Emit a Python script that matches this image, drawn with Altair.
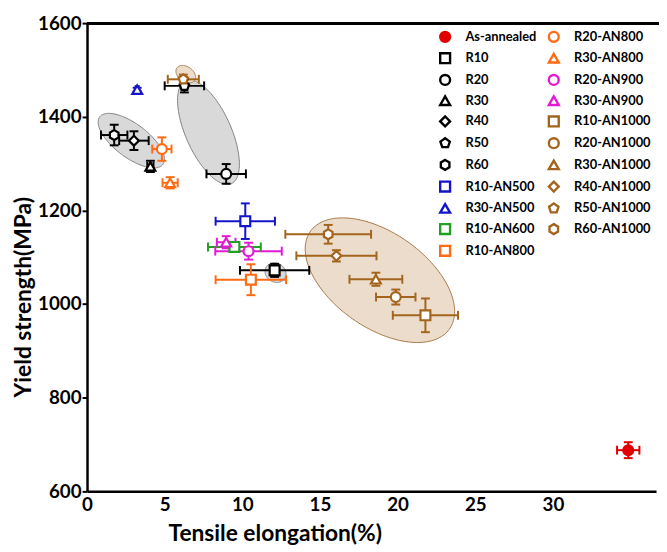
import altair as alt
import pandas as pd
import numpy as np

# ---------------- data ----------------
series = ["As-annealed", "R10", "R20", "R30", "R40", "R50", "R60",
          "R10-AN500", "R30-AN500", "R10-AN600", "R10-AN800",
          "R20-AN800", "R30-AN800", "R20-AN900", "R30-AN900",
          "R10-AN1000", "R20-AN1000", "R30-AN1000", "R40-AN1000",
          "R50-AN1000", "R60-AN1000"]
elong = [34.85, 12.08, 8.96, 4.08, 3.02, 6.27, 1.75,
         10.19, 3.23, 9.49, 10.55,
         4.82, 5.35, 10.40, 8.96,
         21.79, 19.88, 18.60, 16.06,
         6.20, 15.53]
elong_err = [0.72, 2.23, 1.27, 0.20, 0.95, 1.27, 0.85,
             1.91, 0.10, 1.70, 2.27,
             0.62, 0.49, 2.14, 0.60,
             2.10, 1.27, 1.70, 2.58,
             1.00, 2.76]
ys = [688, 1072, 1278, 1294, 1349, 1466, 1361,
      1177, 1458, 1122, 1052,
      1331, 1259, 1113, 1132,
      976, 1015, 1053, 1103,
      1480, 1149]
ys_err = [17, 14, 21, 12, 20, 14, 22,
          38, 4, 5, 33,
          25, 12, 18, 13,
          36, 16, 14, 12,
          10, 20]

BLACK, BLUE, GREEN, ORANGE, MAGENTA, BROWN, RED = (
    "#000000", "#1414c8", "#22a022", "#ff6a13", "#e21ad4", "#a3651d", "#e00000")
colors = [RED, BLACK, BLACK, BLACK, BLACK, BLACK, BLACK,
          BLUE, BLUE, GREEN, ORANGE,
          ORANGE, ORANGE, MAGENTA, MAGENTA,
          BROWN, BROWN, BROWN, BROWN, BROWN, BROWN]
PENT = "M0,-1L0.951,-0.309L0.588,0.809L-0.588,0.809L-0.951,-0.309Z"
HEX = "M0,-1L0.866,-0.5L0.866,0.5L0,1L-0.866,0.5L-0.866,-0.5Z"
shapes = ["circle", "square", "circle", "triangle-up", "diamond", PENT, HEX,
          "square", "triangle-up", "square", "square",
          "circle", "triangle-up", "circle", "triangle-up",
          "square", "circle", "triangle-up", "diamond", PENT, HEX]
fills = [RED] + ["white"] * 20

# ellipses: centre (data), semi-axes (px), tilt (deg, clockwise), group
ell_cx = [2.85, 7.82, 12.14, 6.36, 18.86]
ell_cy = [1349, 1367, 1067, 1491, 1051]
ell_a = [40, 57, 11, 11, 86]
ell_b = [17, 23, 9.5, 7.5, 48]
ell_t = [37, 66, 30, 35, 35]
ell_grp = ["gray", "gray", "gray", "brown", "brown"]

# ---------------- layout ----------------
W, H = 576, 474
XMAX = 36.64
kx, ky = W / XMAX, H / 1000.0

df = pd.DataFrame({"series": series, "x": elong, "xe": elong_err,
                   "y": ys, "ye": ys_err, "hex": colors})
df["xlo"] = df.x - df.xe
df["xhi"] = df.x + df.xe
df["ylo"] = df.y - df.ye
df["yhi"] = df.y + df.ye

rows = []
for k in range(len(ell_cx)):
    a, b = ell_a[k], ell_b[k]
    phi = -np.radians(ell_t[k])
    c, s = np.cos(phi), np.sin(phi)
    A = c * c / a**2 + s * s / b**2
    B = 2 * c * s * (1 / a**2 - 1 / b**2)
    C = s * s / a**2 + c * c / b**2
    umax = np.sqrt(4 * C / (4 * A * C - B * B))
    u = -umax * np.cos(np.linspace(0, np.pi, 90))
    disc = np.clip(B * B * u * u - 4 * C * (A * u * u - 1), 0, None)
    v1 = (-B * u - np.sqrt(disc)) / (2 * C)
    v2 = (-B * u + np.sqrt(disc)) / (2 * C)
    for uu, a1, a2 in zip(u, v1, v2):
        rows.append({"eid": k, "grp": ell_grp[k],
                     "ex": ell_cx[k] + uu / kx,
                     "elo": ell_cy[k] + a1 / ky,
                     "ehi": ell_cy[k] + a2 / ky})
edf = pd.DataFrame(rows)

FONT = "Lato"
xs = alt.Scale(domain=[0, XMAX], nice=False, zero=False)
yscale = alt.Scale(domain=[600, 1600], nice=False, zero=False)

xaxis = alt.Axis(title="Tensile elongation(%)", values=[0, 5, 10, 15, 20, 25, 30],
                 grid=False, tickSize=0, labelPadding=4, labelFontSize=19,
                 labelFont=FONT, labelFontWeight="bold", labelColor="black",
                 titleFont=FONT, titleFontSize=23, titleFontWeight="bold",
                 titleColor="black", titleX=190, titleY=43, titleBaseline="middle",
                 titleAlign="center", domainColor="black", domainWidth=2.5,
                 labelFlush=False, format="d")
yaxis = alt.Axis(title="Yield strength(MPa)", values=[600, 800, 1000, 1200, 1400, 1600],
                 grid=False, tickSize=5, tickWidth=2, tickColor="black",
                 labelPadding=1, labelFontSize=19, labelFont=FONT,
                 labelFontWeight="bold", labelColor="black",
                 titleFont=FONT, titleFontSize=23, titleFontWeight="bold",
                 titleColor="black", titleX=-64, titleY=277, titleBaseline="middle",
                 titleAlign="center", titleAngle=-90,
                 domainColor="black", domainWidth=2.5, labelFlush=False, format="d")

base_e = alt.Chart(edf)
gray_ell = base_e.transform_filter(alt.datum.grp == "gray").mark_area(
    fill="#d9d9d9", stroke="#7f7f7f", strokeWidth=1, opacity=1
).encode(x=alt.X("ex:Q", scale=xs, axis=xaxis),
         y=alt.Y("elo:Q", scale=yscale, axis=yaxis),
         y2="ehi:Q", detail="eid:N")
brown_ell = base_e.transform_filter(alt.datum.grp == "brown").mark_area(
    fill="#ecdccb", stroke="#a87846", strokeWidth=1, opacity=1
).encode(x="ex:Q", y="elo:Q", y2="ehi:Q", detail="eid:N")

base = alt.Chart(df)
stroke_id = alt.Stroke("hex:N", scale=None)
xbars = base.mark_rule(strokeWidth=2).encode(x="xlo:Q", x2="xhi:Q", y="y:Q", stroke=stroke_id)
ybars = base.mark_rule(strokeWidth=2).encode(x="x:Q", y="ylo:Q", y2="yhi:Q", stroke=stroke_id)
cap_l = base.mark_point(shape="stroke", size=81, strokeWidth=2, angle=90, opacity=1).encode(
    x="xlo:Q", y="y:Q", stroke=stroke_id)
cap_r = base.mark_point(shape="stroke", size=81, strokeWidth=2, angle=90, opacity=1).encode(
    x="xhi:Q", y="y:Q", stroke=stroke_id)
cap_b = base.mark_point(shape="stroke", size=81, strokeWidth=2, opacity=1).encode(
    x="x:Q", y="ylo:Q", stroke=stroke_id)
cap_t = base.mark_point(shape="stroke", size=81, strokeWidth=2, opacity=1).encode(
    x="x:Q", y="yhi:Q", stroke=stroke_id)

points = base.mark_point(filled=False, size=100, strokeWidth=2.2, opacity=1).encode(
    x="x:Q", y="y:Q",
    color=alt.Color("series:N", scale=alt.Scale(domain=series, range=colors), title=None),
    shape=alt.Shape("series:N", scale=alt.Scale(domain=series, range=shapes), title=None),
    fill=alt.Fill("series:N", scale=alt.Scale(domain=series, range=fills), title=None),
)

top_border = alt.Chart(df).mark_rule(color="black", strokeWidth=2.5).encode(
    x=alt.value(0), x2=alt.value(W + 3), y=alt.value(0))

chart = alt.layer(gray_ell, brown_ell, xbars, ybars, cap_l, cap_r, cap_b, cap_t,
                  points, top_border).properties(
    width=W, height=H,
    autosize=alt.AutoSizeParams(type="none"),
    padding={"left": 80, "top": 12, "right": 3, "bottom": 52},
    background="white",
).configure_view(stroke=None).configure_legend(
    orient="none", legendX=356, legendY=7, columns=2, padding=0,
    symbolSize=100, symbolStrokeWidth=2.4, labelFont=FONT, labelFontSize=13,
    labelFontWeight="bold", labelColor="black", labelOffset=14,
    rowPadding=1, columnPadding=7, labelLimit=200
)

chart.save("out.html", embed_options={"renderer": "svg", "actions": False})
